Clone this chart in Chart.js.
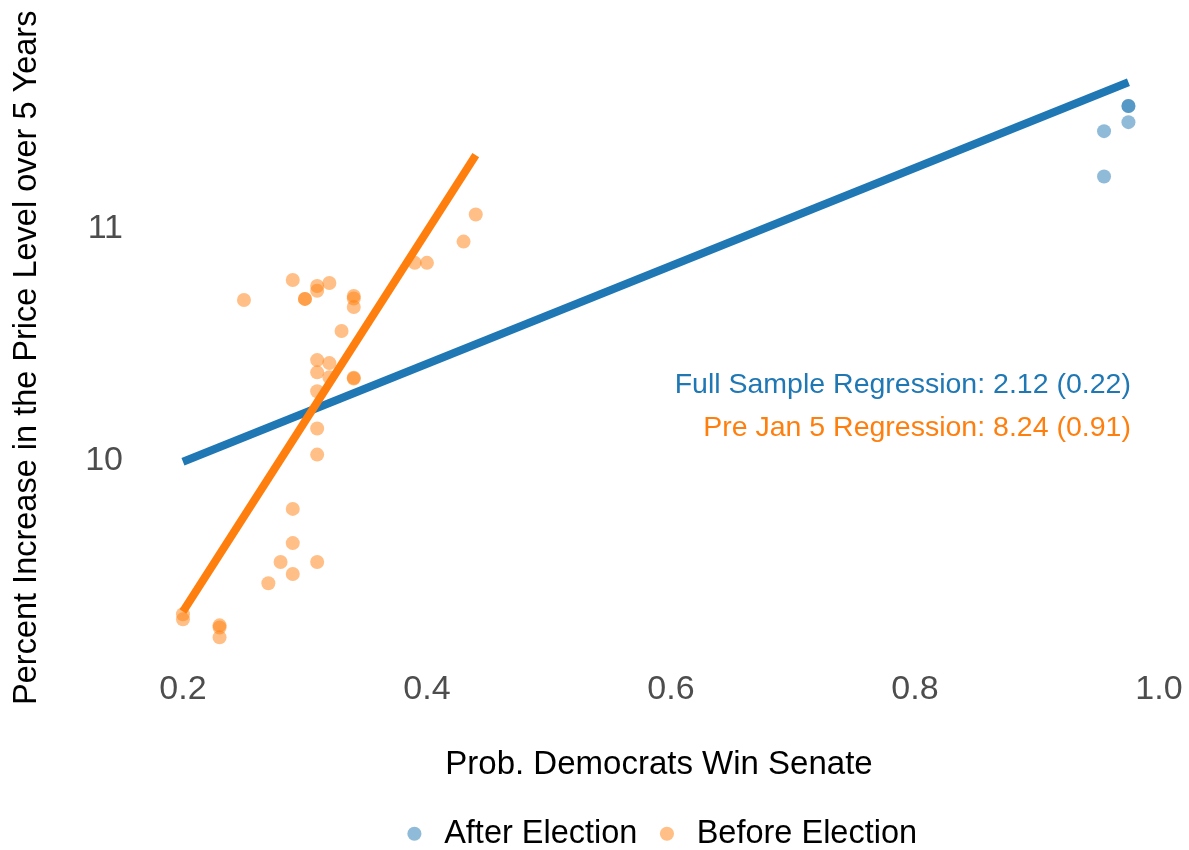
<!DOCTYPE html>
<html>
<head>
<meta charset="utf-8">
<script src="https://cdn.jsdelivr.net/npm/chart.js@4.4.0/dist/chart.umd.min.js"></script>
<style>
  html, body { margin: 0; padding: 0; background: #fff; }
  #wrap { width: 1189px; height: 850px; }
</style>
</head>
<body>
<div id="wrap"><canvas id="chart"></canvas></div>
<script>
const FONT = "'Liberation Sans', Arial, Helvetica, sans-serif";

// After election: prob. of Democratic Senate vs 5y price level increase
const afterProb = [0.975, 0.975, 0.975, 0.955, 0.955];
const afterPrice = [11.533, 11.533, 11.463, 11.424, 11.228];

// Before election
const beforeProb = [0.20, 0.20, 0.23, 0.23, 0.23, 0.27, 0.28, 0.29, 0.29, 0.29, 0.31, 0.31,
  0.25, 0.29, 0.30, 0.30, 0.31, 0.31, 0.32, 0.34, 0.34, 0.34, 0.33, 0.31, 0.32, 0.31,
  0.32, 0.34, 0.34, 0.31, 0.31, 0.39, 0.40, 0.43, 0.44];
const beforePrice = [9.333, 9.311, 9.285, 9.276, 9.233, 9.467, 9.559, 9.507, 9.641, 9.789, 9.559, 10.024,
  10.693, 10.780, 10.698, 10.698, 10.754, 10.733, 10.767, 10.711, 10.700, 10.663, 10.559, 10.433, 10.420, 10.380,
  10.359, 10.357, 10.353, 10.298, 10.137, 10.854, 10.854, 10.946, 11.063];

// fitted regression lines (end points)
const fullFitX = [0.2, 0.975];
const fullFitY = [9.993, 11.636];
const preFitX = [0.2, 0.44];
const preFitY = [9.345, 11.32];

const xTicks = [0.2, 0.4, 0.6, 0.8, 1.0];
const yTicks = [10, 11];

const noteText = ['Full Sample Regression: 2.12 (0.22)', 'Pre Jan 5 Regression: 8.24 (0.91)'];
const noteX = 0.977;
const noteY = [10.325, 10.137];

const BLUE = '#1f77b4';
const ORANGE = '#ff7f0e';

const toPoints = (xs, ys) => xs.map((x, i) => ({ x: x, y: ys[i] }));

// draws the two regression labels
const regressionNotes = {
  id: 'regressionNotes',
  afterDatasetsDraw(chart) {
    const { ctx, scales: { x, y } } = chart;
    ctx.save();
    ctx.font = '28.5px ' + FONT;
    ctx.textAlign = 'right';
    ctx.textBaseline = 'middle';
    noteText.forEach((t, i) => {
      ctx.fillStyle = i === 0 ? BLUE : ORANGE;
      ctx.fillText(t, x.getPixelForValue(noteX), y.getPixelForValue(noteY[i]));
    });
    ctx.restore();
  }
};

new Chart(document.getElementById('chart'), {
  type: 'scatter',
  data: {
    datasets: [
      {
        type: 'line',
        label: 'Pre Jan 5 fit',
        data: toPoints(preFitX, preFitY),
        borderColor: ORANGE,
        borderWidth: 8,
        pointRadius: 0,
        order: 0
      },
      {
        type: 'line',
        label: 'Full sample fit',
        data: toPoints(fullFitX, fullFitY),
        borderColor: BLUE,
        borderWidth: 8,
        pointRadius: 0,
        order: 1
      },
      {
        label: 'After Election',
        data: toPoints(afterProb, afterPrice),
        backgroundColor: 'rgba(31,119,180,0.5)',
        borderWidth: 0,
        pointRadius: 7,
        order: 2
      },
      {
        label: 'Before Election',
        data: toPoints(beforeProb, beforePrice),
        backgroundColor: 'rgba(255,127,14,0.5)',
        borderWidth: 0,
        pointRadius: 7,
        order: 3
      }
    ]
  },
  options: {
    responsive: true,
    maintainAspectRatio: false,
    animation: false,
    events: [],
    layout: { padding: { top: 69, right: 7, left: 0, bottom: -10 } },
    scales: {
      x: {
        type: 'linear',
        min: 0.1615,
        max: 1.0189,
        afterBuildTicks: s => { s.ticks = xTicks.map(v => ({ value: v })); },
        afterFit: s => { s.height = 155; s.paddingLeft = 0; s.paddingRight = 0; },
        grid: { display: false, drawTicks: false },
        border: { display: false },
        ticks: {
          color: '#4d4d4d',
          font: { family: FONT, size: 34 },
          padding: 23,
          maxRotation: 0,
          autoSkip: false,
          callback: v => v.toFixed(1)
        },
        title: {
          display: true,
          text: 'Prob. Democrats Win Senate',
          color: '#000',
          font: { family: FONT, size: 33 },
          padding: { top: 0, bottom: 17 }
        }
      },
      y: {
        type: 'linear',
        min: 9.1935,
        max: 11.693,
        afterBuildTicks: s => { s.ticks = yTicks.map(v => ({ value: v })); },
        afterFit: s => { s.width = 136; s.paddingTop = 0; s.paddingBottom = 0; },
        grid: { display: false, drawTicks: false },
        border: { display: false },
        ticks: {
          color: '#4d4d4d',
          font: { family: FONT, size: 34 },
          padding: 13,
          callback: v => String(v)
        },
        title: {
          display: true,
          text: 'Percent Increase in the Price Level over 5 Years',
          color: '#000',
          font: { family: FONT, size: 32.5 },
          padding: { top: 8, bottom: 0 }
        }
      }
    },
    plugins: {
      tooltip: { enabled: false },
      legend: {
        position: 'bottom',
        fullSize: false,
        labels: {
          usePointStyle: true,
          pointStyle: 'circle',
          boxWidth: 27,
          boxHeight: 10,
          padding: 16,
          color: '#000',
          font: { family: FONT, size: 32.5 },
          filter: item => item.datasetIndex >= 2
        }
      }
    }
  },
  plugins: [regressionNotes]
});
</script>
</body>
</html>
